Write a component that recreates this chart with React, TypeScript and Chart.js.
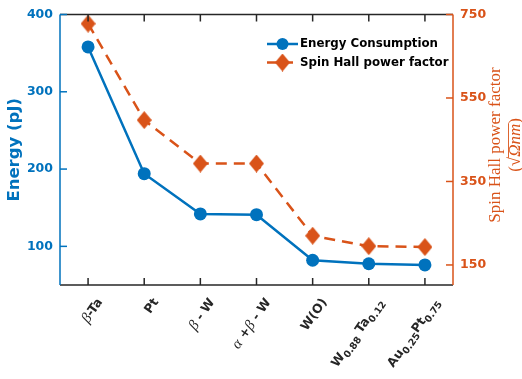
import React, { useEffect, useRef } from 'react';
import { Chart, registerables } from 'chart.js';

Chart.register(...registerables);

// ---- data ----
const categories = ['β-Ta', 'Pt', 'β - W', 'α +β - W', 'W(O)', 'W0.88 Ta0.12', 'Au0.25Pt0.75'];
const energy = [358, 194, 142, 141, 82, 77.5, 76];
const spinHall = [728, 497, 393, 393, 220, 195, 193];
const energyTicks = [100, 200, 300, 400];
const spinTicks = [150, 350, 550, 750];
const energyLabel = 'Energy Consumption';
const spinLabel = 'Spin Hall power factor';
const leftTitle = 'Energy (pJ)';
const rightTitle1 = 'Spin Hall power factor';

// rich tick label runs: g = greek italic, b = bold, s = subscript
const xLabelRuns: [string, string][][] = [
  [['g', 'β'], ['b', '-Ta']],
  [['b', 'Pt']],
  [['g', 'β'], ['b', ' - W']],
  [['g', 'α'], ['b', ' +'], ['g', 'β'], ['b', ' - W']],
  [['b', 'W(O)']],
  [['b', 'W'], ['s', '0.88'], ['b', ' Ta'], ['s', '0.12']],
  [['b', 'Au'], ['s', '0.25'], ['b', 'Pt'], ['s', '0.75']],
];

const BLUE = '#0072BD';
const ORANGE = '#D95319';
const AX = '#262626';
const SANS = '"DejaVu Sans"';
const SERIF = '"Liberation Serif"';

function makeDiamond(w: number, h: number, color: string) {
  const c = document.createElement('canvas');
  c.width = w;
  c.height = h;
  const g = c.getContext('2d')!;
  g.fillStyle = color;
  g.beginPath();
  g.moveTo(w / 2, 0);
  g.lineTo(w, h / 2);
  g.lineTo(w / 2, h);
  g.lineTo(0, h / 2);
  g.closePath();
  g.fill();
  return c;
}

export default function App() {
  const ref = useRef<HTMLCanvasElement>(null);

  useEffect(() => {
    document.body.style.margin = '0';
    const canvas = ref.current!;
    const diamond = makeDiamond(15, 18, ORANGE);

    const seg = (ctx: CanvasRenderingContext2D, x1: number, y1: number, x2: number, y2: number) => {
      ctx.beginPath();
      ctx.moveTo(x1, y1);
      ctx.lineTo(x2, y2);
      ctx.stroke();
    };

    const fontFor = (kind: string) => {
      if (kind === 'g') return `italic 15px ${SERIF}`;
      if (kind === 's') return `bold 9.5px ${SANS}`;
      return `bold 12.5px ${SANS}`;
    };

    const decor = {
      id: 'decor',
      afterDraw(chart: any) {
        const { ctx, chartArea, scales } = chart;
        const { left, right, top, bottom } = chartArea;
        ctx.save();
        ctx.lineWidth = 1.5;
        ctx.setLineDash([]);
        // box top/bottom
        ctx.strokeStyle = AX;
        seg(ctx, left, top, right, top);
        seg(ctx, left, bottom, right, bottom);
        categories.forEach((_, i) => {
          const x = scales.x.getPixelForValue(i);
          seg(ctx, x, bottom, x, bottom - 7);
          seg(ctx, x, top, x, top + 7);
        });
        // left axis
        ctx.strokeStyle = BLUE;
        seg(ctx, left, top, left, bottom);
        energyTicks.forEach(v => {
          const y = scales.y.getPixelForValue(v);
          seg(ctx, left, y, left + 7, y);
        });
        // right axis
        ctx.strokeStyle = ORANGE;
        seg(ctx, right, top, right, bottom);
        spinTicks.forEach(v => {
          const y = scales.y2.getPixelForValue(v);
          seg(ctx, right, y, right - 7, y);
        });

        // x labels
        ctx.fillStyle = AX;
        ctx.textBaseline = 'middle';
        ctx.textAlign = 'left';
        xLabelRuns.forEach((runs, i) => {
          const x = scales.x.getPixelForValue(i);
          let total = 0;
          const widths = runs.map(([k, t]) => {
            ctx.font = fontFor(k);
            const w = ctx.measureText(t).width;
            total += w;
            return w;
          });
          ctx.save();
          ctx.translate(x + 12, bottom + 15);
          ctx.rotate((-55 * Math.PI) / 180);
          let cx = -total;
          runs.forEach(([k, t], j) => {
            ctx.font = fontFor(k);
            ctx.fillText(t, cx, k === 's' ? 4.5 : 0);
            cx += widths[j];
          });
          ctx.restore();
        });

        // left title
        ctx.save();
        ctx.fillStyle = BLUE;
        ctx.font = `bold 16.5px ${SANS}`;
        ctx.textAlign = 'center';
        ctx.textBaseline = 'middle';
        ctx.translate(15, (top + bottom) / 2);
        ctx.rotate(-Math.PI / 2);
        ctx.fillText(leftTitle, 0, 0);
        ctx.restore();

        // right title
        ctx.save();
        ctx.fillStyle = ORANGE;
        ctx.strokeStyle = ORANGE;
        ctx.textBaseline = 'middle';
        ctx.translate(496, 145);
        ctx.rotate(-Math.PI / 2);
        ctx.font = `17px ${SERIF}`;
        ctx.textAlign = 'center';
        ctx.fillText(rightTitle1, 0, 0);
        const parts: [string, string][] = [['r', '('], ['r', '√'], ['i', 'Ωnm'], ['r', ')']];
        let tw = 0;
        const pw = parts.map(([k, t]) => {
          ctx.font = k === 'i' ? `italic 17px ${SERIF}` : `17px ${SERIF}`;
          const w = ctx.measureText(t).width;
          tw += w;
          return w;
        });
        ctx.textAlign = 'left';
        let px = -tw / 2;
        let olStart = 0, olEnd = 0;
        const ly = 20;
        parts.forEach(([k, t], j) => {
          ctx.font = k === 'i' ? `italic 17px ${SERIF}` : `17px ${SERIF}`;
          if (j === 2) olStart = px;
          ctx.fillText(t, px, ly);
          px += pw[j];
          if (j === 2) olEnd = px;
        });
        ctx.lineWidth = 0.9;
        seg(ctx, olStart - 1, ly - 7.5, olEnd + 0.5, ly - 7.5);
        ctx.restore();

        // legend
        const rows = [
          { y: 44, color: BLUE, dash: [] as number[], label: energyLabel, shape: 'circle' },
          { y: 62.5, color: ORANGE, dash: [10, 6], label: spinLabel, shape: 'diamond' },
        ];
        rows.forEach(r => {
          ctx.save();
          ctx.strokeStyle = r.color;
          ctx.fillStyle = r.color;
          ctx.lineWidth = 2.5;
          ctx.setLineDash(r.dash);
          seg(ctx, 267, r.y, 298, r.y);
          ctx.setLineDash([]);
          if (r.shape === 'circle') {
            ctx.beginPath();
            ctx.arc(282.5, r.y, 6, 0, Math.PI * 2);
            ctx.fill();
          } else {
            ctx.drawImage(diamond, 282.5 - 7.5, r.y - 9);
          }
          ctx.fillStyle = '#000';
          ctx.font = `bold 11.8px ${SANS}`;
          ctx.textAlign = 'left';
          ctx.textBaseline = 'middle';
          ctx.fillText(r.label, 300, r.y);
          ctx.restore();
        });

        ctx.restore();
      },
    };

    const chart = new Chart(canvas, {
      type: 'line',
      data: {
        labels: categories,
        datasets: [
          {
            label: spinLabel,
            data: spinHall,
            yAxisID: 'y2',
            borderColor: ORANGE,
            backgroundColor: ORANGE,
            borderWidth: 2.5,
            borderDash: [11, 7],
            pointStyle: diamond,
            pointRadius: 9,
            pointBorderWidth: 0,
            pointBackgroundColor: ORANGE,
            tension: 0,
          },
          {
            label: energyLabel,
            data: energy,
            yAxisID: 'y',
            borderColor: BLUE,
            backgroundColor: BLUE,
            borderWidth: 2.5,
            pointStyle: 'circle',
            pointRadius: 6.5,
            pointBorderWidth: 0,
            pointBackgroundColor: BLUE,
            tension: 0,
          },
        ],
      },
      options: {
        responsive: false,
        animation: false,
        layout: { padding: { top: 11, left: 0, right: 0, bottom: 0 } },
        plugins: { legend: { display: false }, tooltip: { enabled: false } },
        scales: {
          x: {
            type: 'category',
            offset: true,
            grid: { display: false, drawTicks: false },
            border: { display: false },
            ticks: { display: false },
            afterFit: (s: any) => { s.height = 94; },
          },
          y: {
            position: 'left',
            min: 50,
            max: 400,
            afterBuildTicks: (s: any) => { s.ticks = energyTicks.map(v => ({ value: v })); },
            grid: { display: false, drawTicks: false },
            border: { display: false },
            ticks: { color: BLUE, padding: 7, font: { family: 'DejaVu Sans', weight: 'bold', size: 12.5 } },
            afterFit: (s: any) => { s.width = 60; },
          },
          y2: {
            position: 'right',
            min: 102,
            max: 750,
            afterBuildTicks: (s: any) => { s.ticks = spinTicks.map(v => ({ value: v })); },
            grid: { display: false, drawTicks: false },
            border: { display: false },
            ticks: { color: ORANGE, padding: 7, font: { family: 'DejaVu Sans', weight: 'bold', size: 12.5 } },
            afterFit: (s: any) => { s.width = 69; },
          },
        },
      } as any,
      plugins: [decor],
    });
    return () => chart.destroy();
  }, []);

  return <canvas ref={ref} width={522} height={379} style={{ display: 'block' }} />;
}
